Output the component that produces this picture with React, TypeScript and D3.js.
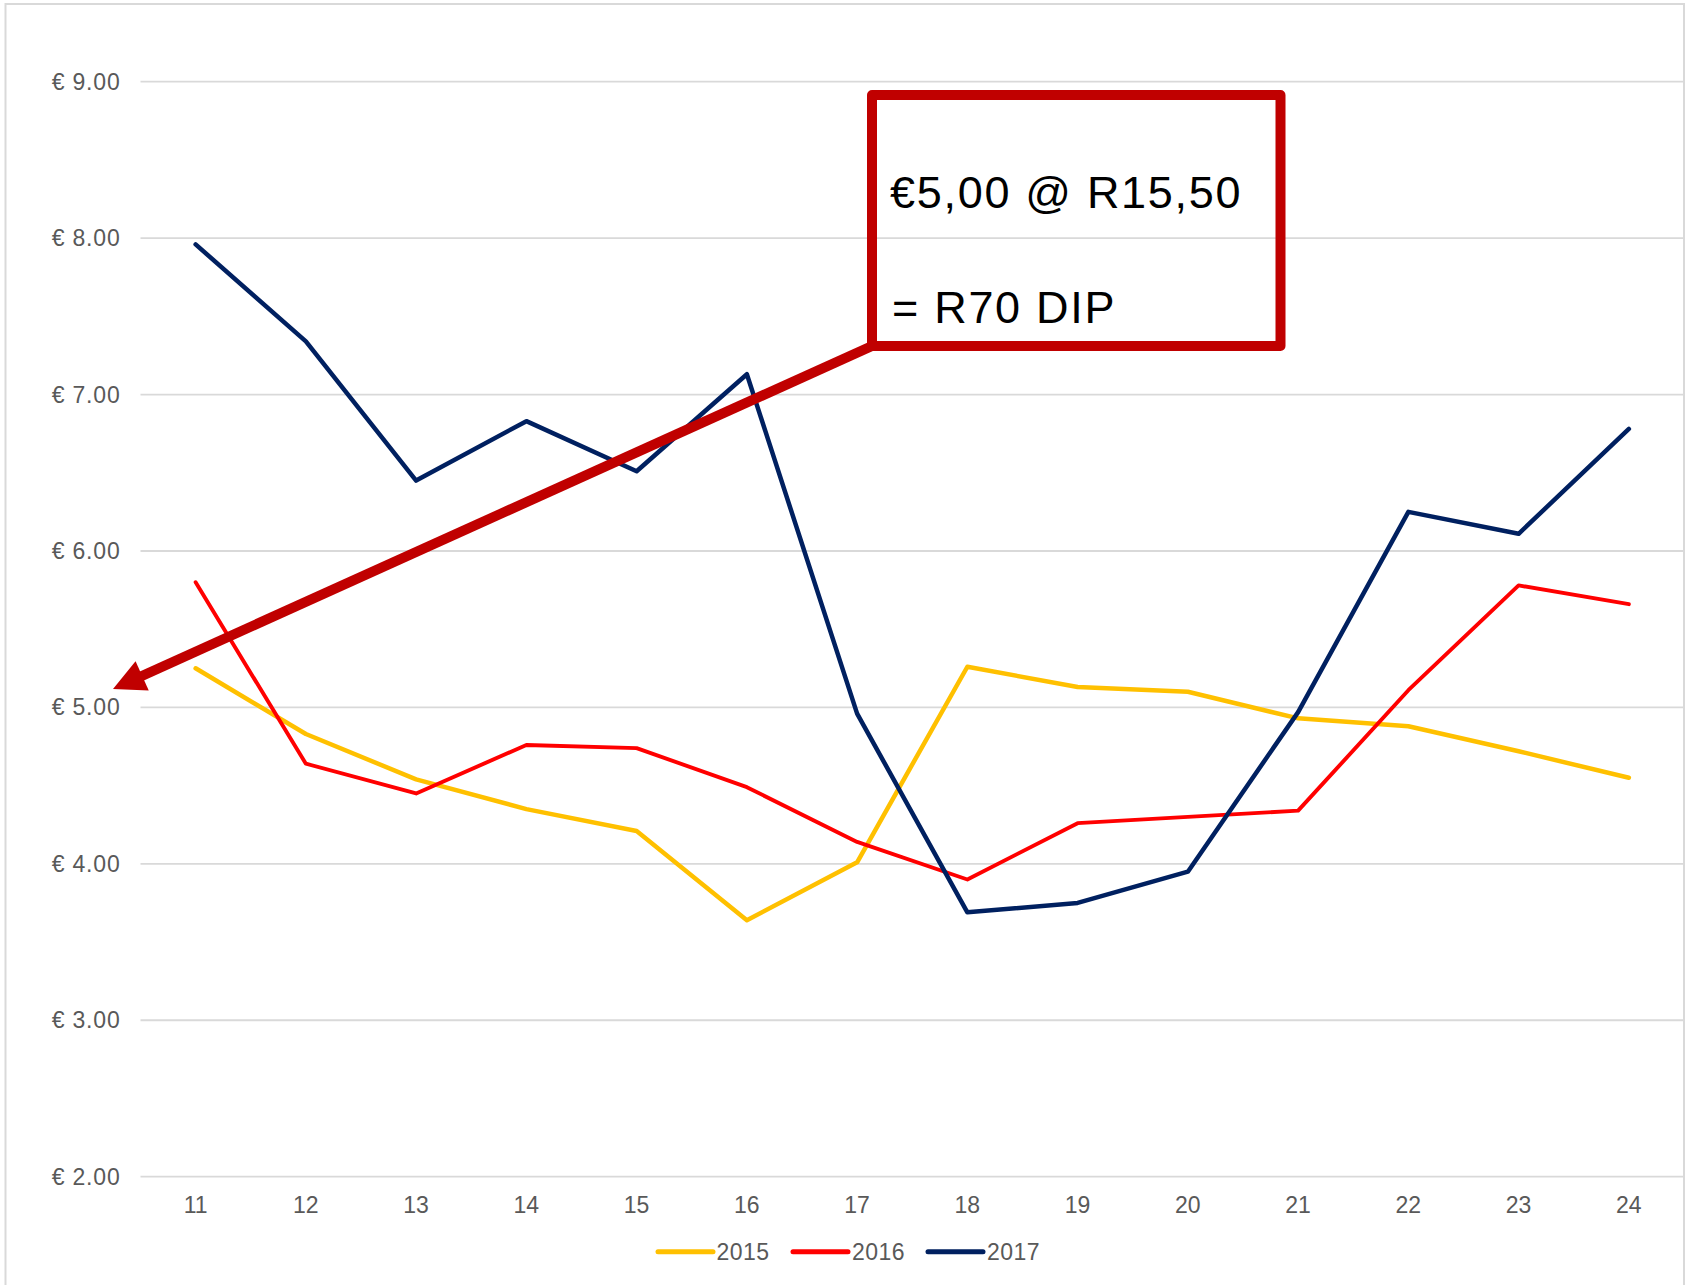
import React from "react";
import * as d3 from "d3";

// ---- data ----
const categories = ["11", "12", "13", "14", "15", "16", "17", "18", "19", "20", "21", "22", "23", "24"];
const seriesNames = ["2015", "2016", "2017"];
const values2015 = [5.25, 4.83, 4.54, 4.35, 4.21, 3.64, 4.01, 5.26, 5.13, 5.1, 4.93, 4.88, 4.72, 4.55];
const values2016 = [5.8, 4.64, 4.45, 4.76, 4.74, 4.49, 4.14, 3.9, 4.26, 4.3, 4.34, 5.11, 5.78, 5.66];
const values2017 = [7.96, 7.34, 6.45, 6.83, 6.51, 7.13, 4.96, 3.69, 3.75, 3.95, 4.97, 6.25, 6.11, 6.78];
const yTicks = [2, 3, 4, 5, 6, 7, 8, 9];
const annotationLines = ["€5,00 @ R15,50", "= R70 DIP"];

// ---- styles / layout ----
const W = 1688;
const H = 1285;
const colors = ["#FFC000", "#FF0000", "#002060"];
const widths = [4.5, 3.9, 4.5];
const FONT = "'Liberation Sans', Arial, Helvetica, sans-serif";
const TEXT = "#595959";
const GRID = "#D9D9D9";
const ANN = "#C00000";

const plot = { left: 140.5, right: 1684, top: 81.7, bottom: 1176.7 };

export default function App() {
  const series = [values2015, values2016, values2017];

  const x = d3.scaleBand<string>().domain(categories).range([plot.left, plot.right]).padding(0);
  const bw = x.bandwidth();
  const y = d3.scaleLinear().domain([2, 9]).range([plot.bottom, plot.top]);

  const line = d3
    .line<number>()
    .x((_, i) => (x(categories[i]) as number) + bw / 2)
    .y((d) => y(d));

  // annotation geometry (layout)
  const box = { x: 872, y: 95, w: 408.5, h: 251 };
  const start: [number, number] = [box.x, box.y + box.h];
  const tip: [number, number] = [113, 689];
  const dx = tip[0] - start[0];
  const dy = tip[1] - start[1];
  const len = Math.hypot(dx, dy);
  const ux = dx / len;
  const uy = dy / len;
  const headL = 32;
  const headW = 16;
  const base: [number, number] = [tip[0] - ux * headL, tip[1] - uy * headL];
  const nx = -uy;
  const ny = ux;
  const head = [
    tip,
    [base[0] + nx * headW, base[1] + ny * headW],
    [base[0] - nx * headW, base[1] - ny * headW],
  ];
  const shaftEnd: [number, number] = [tip[0] - ux * (headL - 4), tip[1] - uy * (headL - 4)];

  const legendItems = [
    { x1: 658, x2: 713, tx: 716.5 },
    { x1: 793, x2: 848, tx: 852 },
    { x1: 928, x2: 983, tx: 987 },
  ];
  const legendY = 1251.7;

  return (
    <svg
      width={W}
      height={H}
      style={{ position: "absolute", left: 0, top: 0, background: "#fff" }}
      fontFamily={FONT}
    >
      <rect x={0} y={0} width={W} height={H} fill="#fff" />
      <rect x={5.5} y={4} width={1678.5} height={1290} fill="none" stroke={GRID} strokeWidth={2} />

      {/* gridlines */}
      {yTicks.map((t) => (
        <line key={t} x1={plot.left} x2={plot.right} y1={y(t)} y2={y(t)} stroke={GRID} strokeWidth={1.8} />
      ))}

      {/* y labels */}
      {yTicks.map((t) => (
        <text
          key={"yl" + t}
          x={120.5}
          y={y(t)}
          dy="0.35em"
          textAnchor="end"
          fontSize={23}
          letterSpacing={0.8}
          fill={TEXT}
        >
          {"€ " + d3.format(".2f")(t)}
        </text>
      ))}

      {/* x labels */}
      {categories.map((c) => (
        <text key={"xl" + c} x={(x(c) as number) + bw / 2} y={1213.3} textAnchor="middle" fontSize={23} fill={TEXT}>
          {c}
        </text>
      ))}

      {/* series */}
      {series.map((vals, i) => (
        <path
          key={seriesNames[i]}
          d={line(vals) as string}
          fill="none"
          stroke={colors[i]}
          strokeWidth={widths[i]}
          strokeLinejoin="round"
          strokeLinecap="round"
        />
      ))}

      {/* legend */}
      {legendItems.map((it, i) => (
        <g key={"lg" + i}>
          <line x1={it.x1} x2={it.x2} y1={legendY} y2={legendY} stroke={colors[i]} strokeWidth={5} strokeLinecap="round" />
          <text x={it.tx} y={1260} fontSize={23} letterSpacing={0.5} fill={TEXT}>
            {seriesNames[i]}
          </text>
        </g>
      ))}

      {/* annotation */}
      <line x1={start[0]} y1={start[1]} x2={shaftEnd[0]} y2={shaftEnd[1]} stroke={ANN} strokeWidth={10} />
      <polygon points={head.map((p) => p.join(",")).join(" ")} fill={ANN} />
      <rect
        x={box.x}
        y={box.y}
        width={box.w}
        height={box.h}
        fill="none"
        stroke={ANN}
        strokeWidth={10}
        strokeLinejoin="round"
      />
      <text x={890} y={208} fontSize={45} letterSpacing={1.7} fill="#000">
        {annotationLines[0]}
      </text>
      <text x={892} y={322.5} fontSize={45} letterSpacing={1.7} fill="#000">
        {annotationLines[1]}
      </text>
    </svg>
  );
}
